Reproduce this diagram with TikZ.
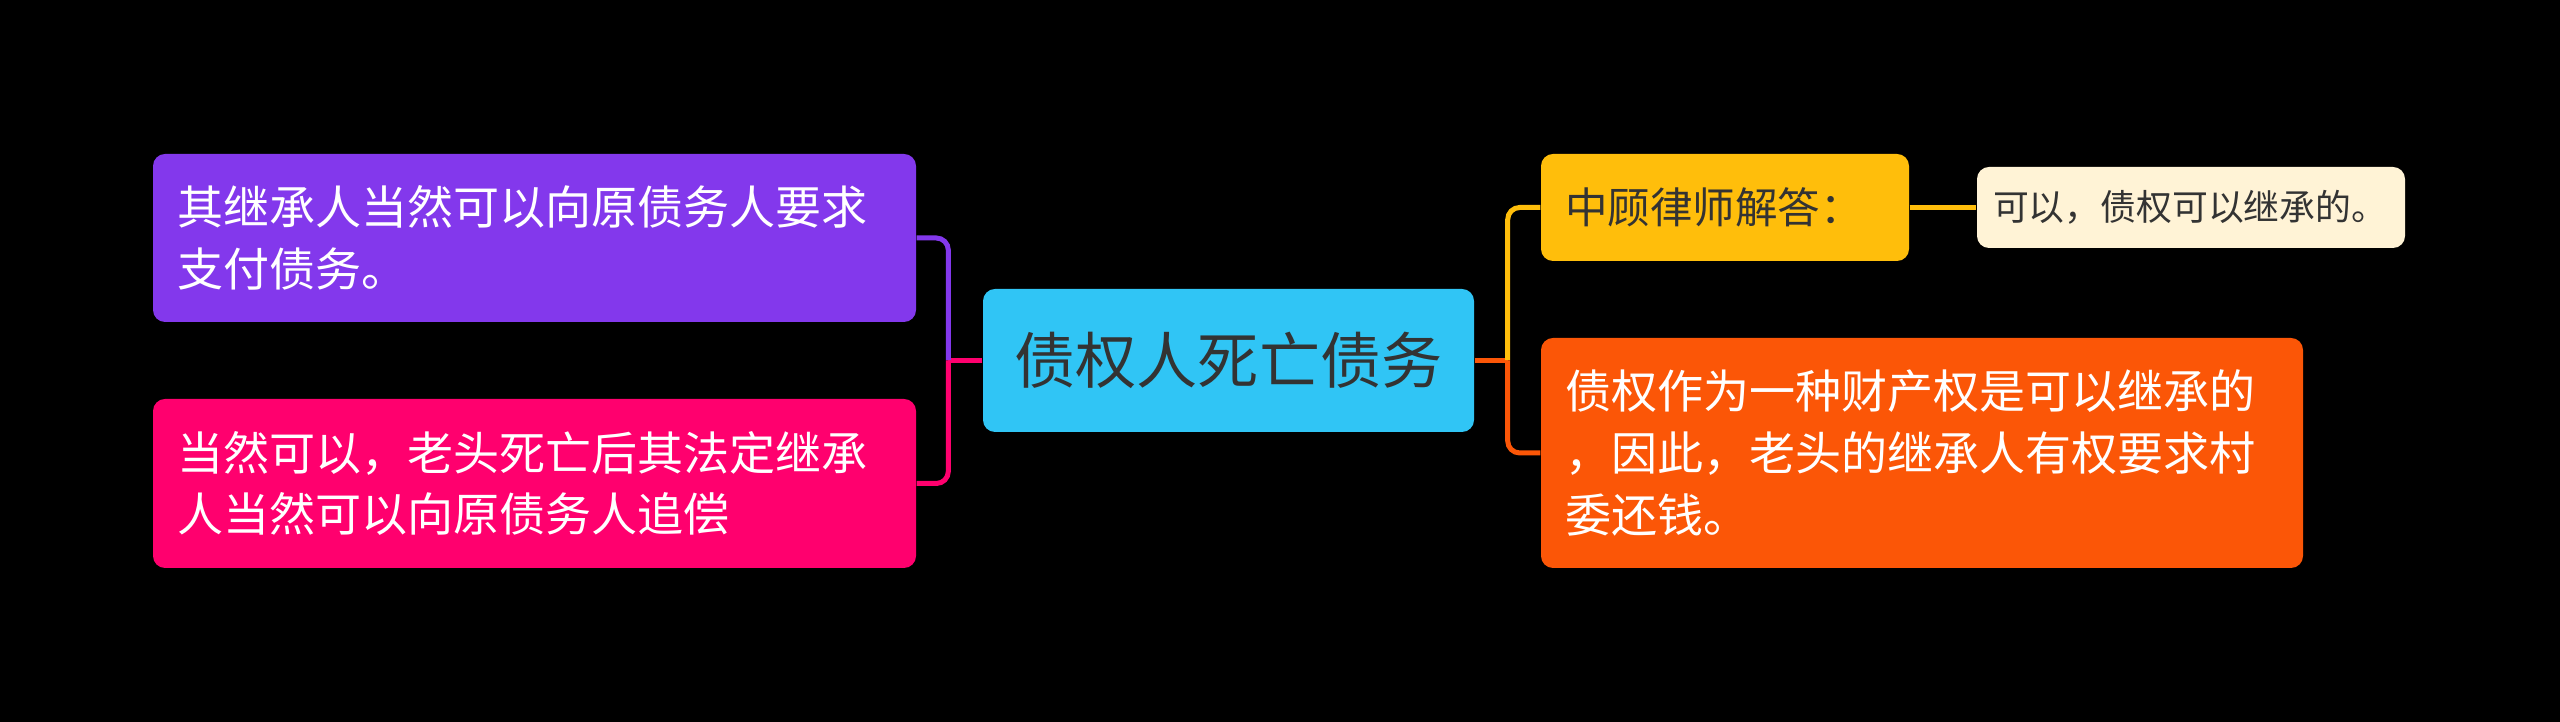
\documentclass[tikz,border=0pt]{standalone}
\usepackage{fontspec}
\setmainfont{Noto Sans CJK SC}
\definecolor{mmcyan}{RGB}{48,197,245}
\definecolor{mmpurple}{RGB}{131,56,236}
\definecolor{mmpink}{RGB}{255,0,110}
\definecolor{mmyellow}{RGB}{255,190,11}
\definecolor{mmcream}{RGB}{255,243,214}
\definecolor{mmorange}{RGB}{251,86,7}
\definecolor{mmtext}{RGB}{51,51,51}
\usetikzlibrary{positioning,calc}

\begin{document}
\begin{tikzpicture}[
    topicbox/.style={rectangle, rounded corners=0.12cm, inner xsep=0.24cm, inner ysep=0pt,
      align=left, text=white, font=\fontsize{13.1}{17.6}\selectfont},
    rootbox/.style={rectangle, rounded corners=0.12cm, fill=mmcyan, text=mmtext,
      minimum width=4.91cm, minimum height=1.43cm, font=\fontsize{17.4}{20}\selectfont},
    link/.style={line width=0.05cm, rounded corners=0.12cm}
  ]
    % Background
    \fill[black] (0,0) rectangle (25.6,7.22);
    \useasboundingbox (0,0) rectangle (25.6,7.22);

    % Root
    \node[rootbox] (root) at (12.285,3.615) {债权人死亡债务};

    % Left topics
    \node[topicbox, fill=mmpurple, text width=7.15cm, minimum height=1.68cm] (q1) at (5.345,4.84)
      {其继承人当然可以向原债务人要求\\支付债务。};
    \node[topicbox, fill=mmpink, text width=7.15cm, minimum height=1.69cm] (q2) at (5.345,2.385)
      {当然可以，老头死亡后其法定继承\\人当然可以向原债务人追偿};

    % Right topics
    \node[topicbox, fill=mmyellow, text=mmtext, text width=3.2cm, minimum height=1.07cm,
          font=\fontsize{12.1}{14}\selectfont] (a1) at (17.25,5.145) {中顾律师解答：};
    \node[topicbox, fill=mmcream, text=mmtext, inner xsep=0.16cm, text width=3.96cm,
          minimum height=0.81cm, font=\fontsize{10.2}{12}\selectfont] (a1d) at (21.91,5.145)
      {可以，债权可以继承的。};
    \node[topicbox, fill=mmorange, text width=7.14cm, minimum height=2.30cm] (a2) at (19.22,2.69)
      {债权作为一种财产权是可以继承的\\，因此，老头的继承人有权要求村\\委还钱。};

    % Junctions
    \coordinate (lj) at ($(root.west)+(-0.34,0)$);
    \coordinate (rj) at ($(root.east)+(0.33,0)$);

    % Connectors left
    \draw[link, mmpink] (root.west) -- (lj);
    \draw[link, mmpurple] (lj) |- (q1.east);
    \draw[link, mmpink] (lj) |- (q2.east);

    % Connectors right
    \draw[link, mmorange] (root.east) -- (rj);
    \draw[link, mmyellow] (rj) |- (a1.west);
    \draw[link, mmorange] (rj) |- (a2.west);
    \draw[link, mmyellow] (a1) -- (a1d);
  \end{tikzpicture}
\end{document}
